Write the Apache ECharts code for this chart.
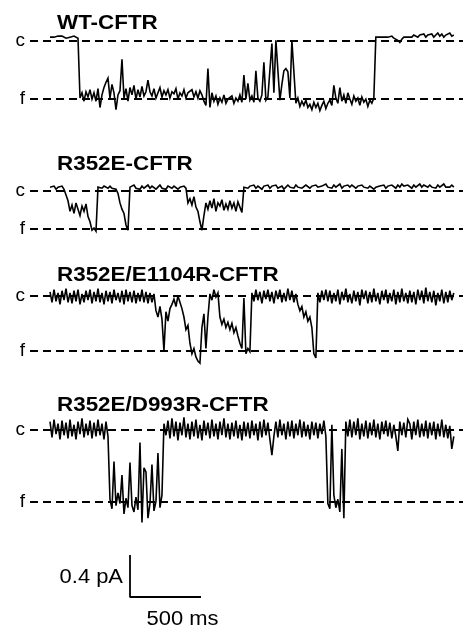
<!DOCTYPE html>
<html>
<head>
<meta charset="utf-8">
<script src="https://cdn.jsdelivr.net/npm/echarts@6/dist/echarts.min.js"></script>
<style>html,body{margin:0;padding:0;background:#fff}#c{width:466px;height:629px}</style>
</head>
<body>
<div id="c"></div>
<script>
// ---- data (current in pA, sampled every DT ms starting at T0 ms) ----
const TITLES = ['WT-CFTR', 'R352E-CFTR', 'R352E/E1104R-CFTR', 'R352E/D993R-CFTR'];
const CLOSED_LEVEL = [0, 0, 0, 0];
const OPEN_LEVEL = [-0.56, -0.37, -0.52, -0.68];
const T0 = 141, DT = 14.08;
const SCALE_PA = 0.4, SCALE_MS = 500;
const SCALE_LABELS = ['0.4 pA', '500 ms'];

const WT = [
0.03,0.04,0.03,0.02,0.04,0.03,0.04,0.03,0.02,0.03,
0.03,0.02,0.04,0.03,0.02,-0.55,-0.50,-0.58,-0.49,-0.54,
-0.47,-0.56,-0.50,-0.58,-0.46,-0.64,-0.52,-0.45,-0.40,-0.36,
-0.55,-0.42,-0.50,-0.66,-0.52,-0.48,-0.18,-0.55,-0.46,-0.58,
-0.45,-0.52,-0.43,-0.56,-0.47,-0.54,-0.44,-0.53,-0.49,-0.38,
-0.49,-0.53,-0.46,-0.55,-0.50,-0.45,-0.54,-0.48,-0.52,-0.47,
-0.55,-0.49,-0.51,-0.46,-0.56,-0.50,-0.53,-0.47,-0.55,-0.50,
-0.51,-0.47,-0.54,-0.49,-0.55,-0.48,-0.52,-0.58,-0.62,-0.27,
-0.64,-0.50,-0.58,-0.53,-0.61,-0.55,-0.59,-0.52,-0.60,-0.56,
-0.57,-0.53,-0.60,-0.55,-0.58,-0.52,-0.59,-0.33,-0.56,-0.41,
-0.57,-0.53,-0.59,-0.29,-0.55,-0.58,-0.52,-0.21,-0.57,-0.54,
-0.55,-0.03,-0.50,0.00,-0.01,-0.57,-0.42,-0.29,-0.27,-0.30,
-0.55,0.00,0.01,-0.60,-0.55,-0.63,-0.58,-0.62,-0.57,-0.64,
-0.61,-0.66,-0.59,-0.64,-0.60,-0.67,-0.62,-0.58,-0.65,-0.60,
-0.57,-0.62,-0.43,-0.55,-0.60,-0.45,-0.58,-0.52,-0.60,-0.50,
-0.56,-0.61,-0.53,-0.58,-0.55,-0.62,-0.54,-0.59,-0.56,-0.63,
-0.57,-0.60,-0.55,0.03,0.04,0.03,0.04,0.03,0.02,0.03,
0.03,0.04,0.02,0.03,0.00,-0.02,0.01,0.03,0.04,0.03,
0.04,0.03,0.05,0.04,0.03,0.05,0.04,0.06,0.03,0.05,
0.04,0.06,0.03,0.05,0.07,0.04,0.06,0.03,0.05,0.06,
0.07,0.04,0.05
];

const R352E = [
0.03,0.02,0.04,0.01,0.03,0.02,0.04,0.01,0.02,-0.10,
-0.20,-0.14,-0.22,-0.12,-0.18,-0.24,-0.15,-0.20,-0.13,-0.25,
-0.30,-0.38,-0.36,-0.39,0.03,0.04,0.02,0.04,0.03,0.02,
0.04,0.02,0.03,0.01,-0.03,-0.12,-0.18,-0.22,-0.33,-0.38,
0.03,0.04,0.05,0.02,0.03,0.01,0.04,0.02,0.03,0.05,
0.02,0.04,0.03,0.01,0.03,0.05,0.02,0.03,0.01,0.04,
0.03,0.02,0.04,0.03,0.01,0.03,0.02,0.04,0.02,-0.12,
-0.08,-0.14,-0.06,-0.16,-0.20,-0.30,-0.38,-0.24,-0.12,-0.18,
-0.10,-0.17,-0.08,-0.20,-0.12,-0.15,-0.09,-0.19,-0.13,-0.18,
-0.10,-0.17,-0.12,-0.20,-0.11,-0.16,-0.21,0.03,0.04,0.02,
0.04,0.03,0.05,0.02,0.04,0.03,0.01,0.04,0.03,0.05,
0.02,0.04,0.03,0.05,0.02,0.03,0.04,0.01,0.03,0.05,
0.03,0.04,0.02,0.05,0.03,0.04,0.02,0.03,0.05,0.04,
0.02,0.04,0.03,0.05,0.03,0.02,0.04,0.03,0.06,0.03,
0.04,0.02,0.05,0.03,0.04,0.06,0.02,0.04,0.03,0.05,
0.03,0.05,0.04,0.02,0.04,0.03,0.05,0.03,0.04,0.02,
0.04,0.03,0.01,0.03,0.02,0.04,0.03,0.05,0.02,0.04,
0.03,0.05,0.04,0.02,0.05,0.03,0.06,0.04,0.03,0.05,
0.04,0.02,0.05,0.03,0.04,0.06,0.03,0.05,0.04,0.03,
0.05,0.03,0.04,0.02,0.05,0.03,0.04,0.06,0.03,0.04,
0.03,0.05,0.03
];

const E1104R = [
0.04,-0.06,0.06,-0.05,0.03,-0.08,0.05,-0.04,0.07,-0.06,
0.03,-0.07,0.05,-0.05,0.06,-0.08,0.02,-0.06,0.05,-0.04,
0.06,-0.07,0.04,-0.05,0.07,-0.06,0.03,-0.08,0.05,-0.05,
0.04,-0.07,0.06,-0.04,0.03,-0.06,0.05,-0.08,0.06,-0.05,
0.04,-0.06,0.05,-0.07,0.03,-0.05,0.06,-0.06,0.04,-0.07,
0.03,-0.06,0.02,-0.14,-0.20,-0.10,-0.22,-0.52,-0.15,-0.24,
-0.12,-0.08,-0.03,-0.10,0.00,-0.06,-0.12,-0.20,-0.32,-0.28,
-0.45,-0.55,-0.50,-0.58,-0.62,-0.64,-0.30,-0.17,-0.50,-0.20,
0.02,-0.04,0.06,-0.01,0.03,-0.20,-0.27,-0.22,-0.30,-0.25,
-0.32,-0.26,-0.35,-0.30,-0.38,-0.45,-0.50,-0.02,-0.55,-0.50,
-0.53,0.03,-0.05,0.06,-0.04,0.04,-0.07,0.05,-0.03,0.06,
-0.05,0.04,-0.07,0.05,-0.03,0.06,-0.06,0.03,-0.05,0.07,
-0.04,0.05,-0.06,0.02,-0.08,-0.14,-0.10,-0.20,-0.15,-0.24,
-0.20,-0.30,-0.55,-0.59,0.03,-0.06,0.05,-0.04,0.06,-0.05,
0.05,-0.07,0.03,-0.05,0.06,-0.08,0.04,-0.04,0.07,-0.06,
0.02,-0.07,0.05,-0.05,0.04,-0.09,0.06,-0.03,0.05,-0.07,
0.04,-0.06,0.07,-0.05,0.03,-0.08,0.05,-0.04,0.06,-0.07,
0.03,-0.05,0.06,-0.08,0.04,-0.06,0.07,-0.05,0.03,-0.07,
0.05,-0.06,0.04,-0.08,0.06,-0.04,0.05,-0.07,0.08,-0.05,
0.04,-0.06,0.05,-0.09,0.03,-0.05,0.06,-0.07,0.04,-0.06,
0.05,-0.04,0.03
];

const D993R = [
0.08,-0.07,0.10,-0.04,0.06,-0.09,0.09,-0.05,0.07,-0.08,
0.10,-0.06,0.05,-0.09,0.08,-0.04,0.11,-0.07,0.06,-0.05,
0.09,-0.08,0.07,-0.06,0.10,-0.05,0.06,-0.09,0.08,-0.06,
-0.66,-0.75,-0.30,-0.72,-0.60,-0.70,-0.43,-0.80,-0.65,-0.74,
-0.31,-0.72,-0.78,-0.64,-0.76,-0.12,-0.88,-0.36,-0.40,-0.84,
-0.70,-0.33,-0.77,-0.68,-0.22,-0.74,-0.62,0.06,-0.05,0.09,
-0.08,0.11,-0.06,0.08,-0.10,0.07,-0.05,0.12,-0.07,0.06,
-0.09,0.08,-0.06,0.10,-0.08,0.05,-0.10,0.09,-0.05,0.07,
-0.08,0.10,-0.06,0.06,-0.09,0.08,-0.05,0.11,-0.07,0.06,
-0.09,0.07,-0.06,0.09,-0.08,0.05,-0.10,0.08,-0.06,0.07,
-0.08,0.09,-0.05,0.06,-0.10,0.08,-0.07,0.10,-0.05,0.07,
-0.09,-0.24,-0.06,0.08,-0.07,0.10,-0.05,0.06,-0.09,0.08,
-0.06,0.09,-0.08,0.06,-0.05,0.10,-0.07,0.08,-0.06,0.05,
-0.09,0.08,-0.05,0.07,-0.08,0.06,-0.04,0.09,-0.06,-0.70,
-0.75,0.05,-0.62,-0.74,-0.66,-0.78,-0.18,-0.84,0.08,-0.06,
0.10,-0.07,0.08,-0.05,0.11,-0.09,0.06,-0.06,0.09,-0.08,
0.07,-0.05,0.10,-0.07,0.06,-0.09,0.08,-0.04,0.09,-0.06,
0.07,-0.08,0.05,-0.06,-0.20,0.08,-0.05,0.07,-0.07,0.10,
0.06,-0.09,0.08,-0.05,0.10,-0.07,0.06,-0.06,0.09,-0.08,
0.07,-0.05,0.08,-0.09,0.06,-0.06,0.10,-0.07,0.05,-0.08,
0.04,-0.18,-0.06
];

const TRACES = [WT, R352E, E1104R, D993R];

// ---- layout / style ----
const FONT = '"Liberation Sans", Arial, Helvetica, sans-serif';
const PANEL_TOP = [8.8, 158.8, 264.5, 398.5];
const TITLE_Y = [23.5, 164.5, 275, 405];
const GRID_LEFT = 30, GRID_W = 433, GRID_H = 126;
const X_MAX = 3050, Y_MIN = -0.9, Y_MAX = 0.3;

const grid = [], xAxis = [], yAxis = [], series = [];
TRACES.forEach((tr, k) => {
  grid.push({left: GRID_LEFT, width: GRID_W, top: PANEL_TOP[k], height: GRID_H});
  xAxis.push({gridIndex: k, type: 'value', min: 0, max: X_MAX, show: false});
  yAxis.push({gridIndex: k, type: 'value', min: Y_MIN, max: Y_MAX, show: false});
  series.push({
    type: 'line', xAxisIndex: k, yAxisIndex: k, clip: false,
    symbol: 'none', showSymbol: false, animation: false, silent: true, z: 3,
    lineStyle: {color: '#000', width: 1.6, join: 'miter', miterLimit: 4},
    data: tr.map((v, i) => [T0 + i * DT, v]),
    markLine: {
      silent: true, animation: false, symbol: ['none', 'none'], z: 2,
      lineStyle: {color: '#000', width: 1.8, type: [8, 5]},
      label: {show: true, position: 'start', distance: 5, color: '#000', fontSize: 19, fontFamily: FONT},
      emphasis: {disabled: true},
      data: [
        {yAxis: CLOSED_LEVEL[k], label: {formatter: 'c'}},
        {yAxis: OPEN_LEVEL[k], label: {formatter: 'f'}}
      ]
    }
  });
});

// scale bar
grid.push({left: 130, width: 71, top: 555, height: 42});
xAxis.push({gridIndex: 4, type: 'value', min: 0, max: SCALE_MS, show: false});
yAxis.push({gridIndex: 4, type: 'value', min: 0, max: SCALE_PA, show: false});
series.push({
  type: 'line', xAxisIndex: 4, yAxisIndex: 4, clip: false, symbol: 'none',
  animation: false, silent: true, lineStyle: {color: '#000', width: 1.8},
  data: [[0, SCALE_PA], [0, 0], [SCALE_MS, 0]]
});

const graphic = TITLES.map((t, k) => ({
  type: 'text', x: 57, y: TITLE_Y[k], scaleX: 1.12, silent: true,
  style: {text: t, fill: '#000', font: 'bold 20px ' + FONT, textVerticalAlign: 'middle'}
}));
graphic.push({
  type: 'text', x: 123, y: 577, scaleX: 1.07, silent: true,
  style: {text: SCALE_LABELS[0], fill: '#000', font: '20.5px ' + FONT, textAlign: 'right', textVerticalAlign: 'middle'}
});
graphic.push({
  type: 'text', x: 182.5, y: 619.5, scaleX: 1.07, silent: true,
  style: {text: SCALE_LABELS[1], fill: '#000', font: '20.5px ' + FONT, textAlign: 'center', textVerticalAlign: 'middle'}
});

const chart = echarts.init(document.getElementById('c'), null, {renderer: 'canvas'});
chart.setOption({
  backgroundColor: '#fff',
  animation: false,
  grid, xAxis, yAxis, series, graphic
});
</script>
</body>
</html>
